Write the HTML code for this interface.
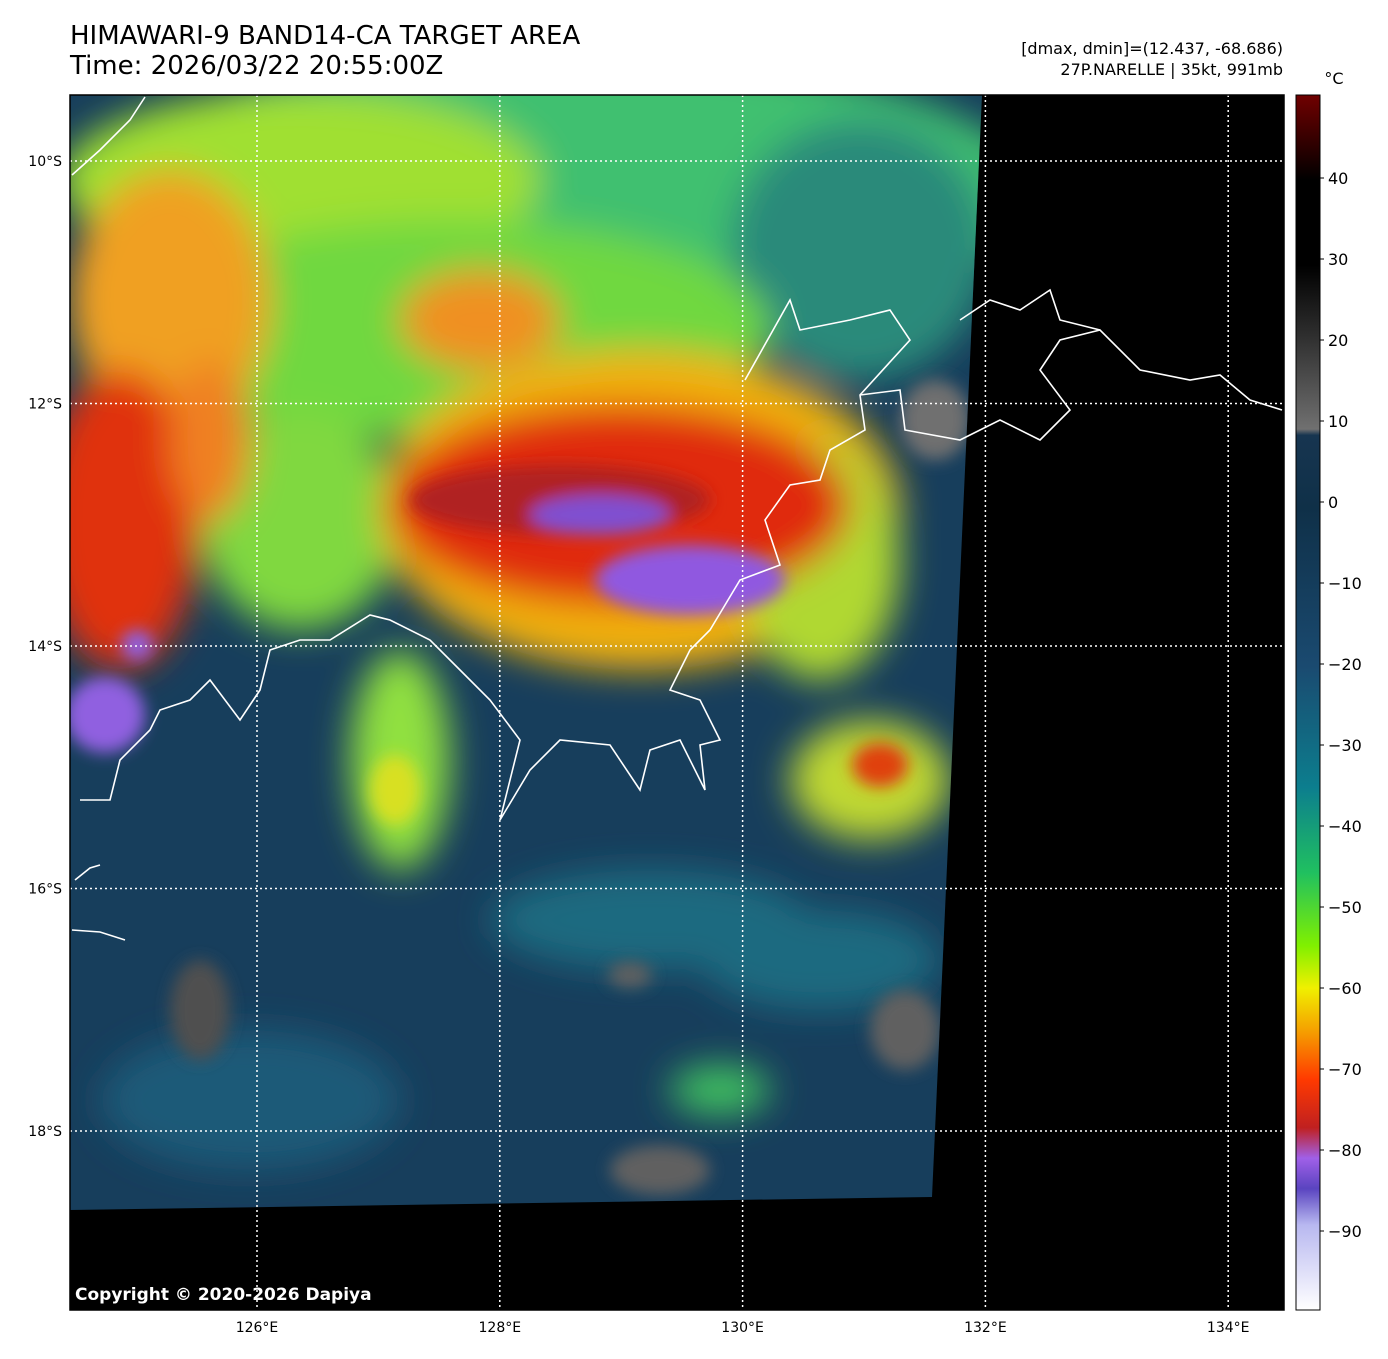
<!DOCTYPE html>
<html><head><meta charset="utf-8"><style>
body{margin:0;background:#fff;width:1388px;height:1359px;overflow:hidden;font-family:"DejaVu Sans","Liberation Sans",sans-serif}
svg{display:block}
</style></head><body>
<svg width="1388" height="1359" viewBox="0 0 1388 1359" xmlns="http://www.w3.org/2000/svg">
<defs>
<linearGradient id="cb" x1="0" y1="1" x2="0" y2="0">
<stop offset="0" stop-color="#ffffff"/><stop offset="0.07" stop-color="#b8b8f0"/>
<stop offset="0.1" stop-color="#5a44c0"/><stop offset="0.125" stop-color="#a060e8"/>
<stop offset="0.15" stop-color="#c02020"/><stop offset="0.19" stop-color="#ff3a00"/>
<stop offset="0.23" stop-color="#f5a000"/><stop offset="0.265" stop-color="#f0f000"/>
<stop offset="0.3" stop-color="#80f000"/><stop offset="0.36" stop-color="#20c060"/>
<stop offset="0.43" stop-color="#0c7e8e"/><stop offset="0.53" stop-color="#1a4a70"/>
<stop offset="0.66" stop-color="#0f3048"/><stop offset="0.72" stop-color="#173550"/>
<stop offset="0.725" stop-color="#707070"/><stop offset="0.8" stop-color="#303030"/>
<stop offset="0.86" stop-color="#000"/><stop offset="0.93" stop-color="#000"/>
<stop offset="1" stop-color="#700000"/>
</linearGradient>
<filter id="bl" x="-30%" y="-30%" width="160%" height="160%"><feGaussianBlur stdDeviation="18"/></filter>
<filter id="bs" x="-30%" y="-30%" width="160%" height="160%"><feGaussianBlur stdDeviation="8"/></filter>
<clipPath id="sw"><polygon points="70,95 982,95 932,1197 70,1210"/></clipPath>
</defs>
<text x="70" y="44" font-size="26">HIMAWARI-9 BAND14-CA TARGET AREA</text>
<text x="70" y="74" font-size="26">Time: 2026/03/22 20:55:00Z</text>
<text x="1283" y="54" font-size="16" text-anchor="end">[dmax, dmin]=(12.437, -68.686)</text>
<text x="1283" y="75" font-size="16" text-anchor="end">27P.NARELLE | 35kt, 991mb</text>
<rect x="70" y="95" width="1214" height="1215" fill="#000"/>
<g clip-path="url(#sw)">
<rect x="70" y="95" width="920" height="1120" fill="#173e5c"/>
<g filter="url(#bl)">
<ellipse cx="560" cy="200" rx="480" ry="150" fill="#40c070"/>
<ellipse cx="860" cy="250" rx="130" ry="130" fill="#2a8a7a"/>
<ellipse cx="300" cy="180" rx="240" ry="90" fill="#a0e030"/>
<ellipse cx="450" cy="330" rx="320" ry="110" fill="#70d840"/>
<ellipse cx="300" cy="520" rx="100" ry="110" fill="#80d840"/>
<ellipse cx="170" cy="300" rx="100" ry="130" fill="#f0a020"/>
<ellipse cx="120" cy="520" rx="80" ry="150" fill="#e03010"/>
<ellipse cx="210" cy="440" rx="40" ry="80" fill="#f08020"/>
<ellipse cx="640" cy="510" rx="260" ry="160" fill="#f0b010"/>
<ellipse cx="820" cy="560" rx="80" ry="120" fill="#b0d830"/>
<ellipse cx="620" cy="505" rx="230" ry="100" fill="#e02a10"/>
<ellipse cx="480" cy="320" rx="80" ry="50" fill="#f09020"/>
<ellipse cx="400" cy="760" rx="50" ry="110" fill="#90e040"/>
<ellipse cx="870" cy="780" rx="80" ry="60" fill="#c0d830"/>
<ellipse cx="720" cy="1090" rx="50" ry="25" fill="#40c060"/>
<ellipse cx="650" cy="920" rx="160" ry="50" fill="#1a6a80"/>
<ellipse cx="820" cy="960" rx="120" ry="50" fill="#1a6a80"/>
<ellipse cx="250" cy="1100" rx="150" ry="70" fill="#1a5a78"/>
</g>
<g filter="url(#bs)">
<ellipse cx="560" cy="500" rx="150" ry="35" fill="#b02020"/>
<ellipse cx="690" cy="580" rx="95" ry="35" fill="#9058e0"/>
<ellipse cx="600" cy="515" rx="70" ry="20" fill="#8050d0"/>
<ellipse cx="105" cy="715" rx="40" ry="38" fill="#9060e0"/>
<ellipse cx="137" cy="645" rx="16" ry="15" fill="#9060e0"/>
<ellipse cx="880" cy="765" rx="28" ry="22" fill="#e04010"/>
<ellipse cx="395" cy="790" rx="25" ry="35" fill="#d8e020"/>
<ellipse cx="935" cy="420" rx="35" ry="40" fill="#707070"/>
<ellipse cx="905" cy="1030" rx="35" ry="40" fill="#606060"/>
<ellipse cx="660" cy="1170" rx="50" ry="25" fill="#606060"/>
<ellipse cx="200" cy="1010" rx="30" ry="50" fill="#505050"/>
<ellipse cx="630" cy="975" rx="22" ry="13" fill="#606060"/>
</g>
</g>
<g fill="none" stroke="#fff" stroke-width="1.6">
<path d="M745,380 L790,300 800,330 850,320 890,310 910,340 860,395 865,430 830,450 820,480 790,485 765,520 780,565 740,580 710,630 690,650 670,690 700,700 720,740 700,745 705,790 680,740 650,750 640,790 610,745 560,740 530,770 500,820 520,740 490,700 460,670 430,640 390,620 370,615 330,640 300,640 270,650 260,690 240,720 210,680 190,700 160,710 150,730 120,760 110,800 80,800"/>
<path d="M860,395 L900,390 905,430 960,440 1000,420 1040,440 1070,410 1040,370 1060,340 1100,330 1140,370 1190,380 1220,375 1250,400 1282,410"/>
<path d="M960,320 L990,300 1020,310 1050,290 1060,320 1100,330"/>
<path d="M72,175 L100,150 130,120 145,97"/>
<path d="M72,930 L100,932 125,940"/>
<path d="M75,880 L90,868 100,865"/>
</g>
<g id="grid" stroke="#fff" stroke-width="1.5" stroke-dasharray="2,3"></g>
<g id="axes" font-size="14"></g>
<rect x="70" y="95" width="1214" height="1215" fill="none" stroke="#000" stroke-width="1.5"/>
<text x="75" y="1300" font-size="17" font-weight="bold" fill="#fff">Copyright © 2020-2026 Dapiya</text>
<rect x="1296" y="95" width="24" height="1215" fill="url(#cb)" stroke="#000"/>
<text x="1334" y="84" font-size="16" text-anchor="middle">°C</text>
<g id="cbt" font-size="16"></g>
</svg>
<script>
const lonTicks=[126,128,130,132,134];
const latTicks=[10,12,14,16,18];
const cbTicks=[40,30,20,10,0,-10,-20,-30,-40,-50,-60,-70,-80,-90];
const x=lon=>257+(lon-126)*121.4;
const y=lat=>161+(lat-10)*121.25;
const cy=v=>178+(40-v)*8.1;
const NS='http://www.w3.org/2000/svg';
const g=document.getElementById('grid'),a=document.getElementById('axes'),c=document.getElementById('cbt');
function mk(t,p,at){const e=document.createElementNS(NS,t);for(const k in at)e.setAttribute(k,at[k]);p.appendChild(e);return e;}
lonTicks.forEach(l=>{
const ln=mk('line',g,{x1:x(l),x2:x(l),y1:95,y2:1310});


const t=mk('text',a,{x:x(l),y:1332,'text-anchor':'middle'});t.textContent=l+'°E';


});
latTicks.forEach(l=>{
const ln=mk('line',g,{x1:70,x2:1284,y1:y(l),y2:y(l)});


const t=mk('text',a,{x:62,y:y(l)+5,'text-anchor':'end'});t.textContent=l+'°S';


});
cbTicks.forEach(v=>{
mk('line',c,{x1:1320,x2:1324,y1:cy(v),y2:cy(v),stroke:'#000'});
const t=mk('text',c,{x:1328,y:cy(v)+6});t.textContent=v<0?'\u2212'+(-v):String(v);


});
</script>
</body></html>
